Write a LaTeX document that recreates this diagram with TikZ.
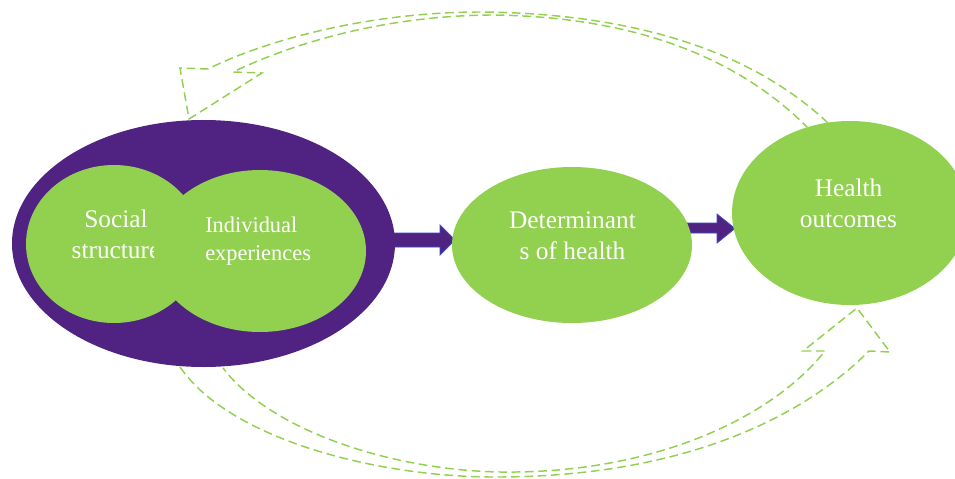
\documentclass[tikz,border=0pt]{standalone}
\usepackage{fontspec}
\setmainfont{Liberation Serif}
\usetikzlibrary{shapes.geometric}
\definecolor{leaf}{RGB}{146,208,80}
\definecolor{plum}{RGB}{80,35,130}
\definecolor{edgeblue}{RGB}{60,75,200}
\begin{document}
\begin{tikzpicture}[x=0.75pt,y=-0.75pt,
  blob/.style={ellipse, fill=leaf, draw=none, inner sep=0pt, outer sep=0pt},
  lbl/.style={text=white, font=\fontsize{19}{23}\selectfont, align=center, anchor=base, inner sep=0pt},
  flow/.style={fill=plum, draw=edgeblue, line width=0.6pt, line join=miter},
  loopback/.style={draw=leaf, line width=1.1pt, dash pattern=on 6.5pt off 3.5pt, line join=miter}]
\clip (0,0) rectangle (955,478);

% feedback arrows (curved block arrows, dashed outlines)
\coordinate (topstartout) at (828,123);
\coordinate (topstartin) at (807,127);
\draw[loopback] (topstartout) .. controls (745,45) and (620,13) .. (480,12)
   .. controls (375,12) and (270,38) .. (208,69) -- (180,68) -- (189,119) -- (262,73) -- (233,72)
   .. controls (300,40) and (390,16) .. (490,15) .. controls (620,16) and (730,50) .. (topstartin);
\coordinate (botstartout) at (180,367);
\coordinate (botstartin) at (223,368);
\draw[loopback] (botstartout) .. controls (230,440) and (380,478) .. (500,477)
   .. controls (680,476) and (800,420) .. (869,351) -- (890,352) -- (857,308) -- (803,351) -- (825,351)
   .. controls (770,420) and (650,474) .. (500,472) .. controls (390,470) and (270,430) .. (botstartin);

% block arrows
\draw[flow] (388,233) -- (440,233) -- (440,225) -- (455,240) -- (440,255) -- (440,247) -- (388,247) -- cycle;
\draw[flow] (685,223) -- (717,223) -- (717,214) -- (735,228.5) -- (717,243) -- (717,233) -- (685,233) -- cycle;

% ellipses
\node[ellipse, fill=plum, draw=none, inner sep=0pt, outer sep=0pt,
      minimum width=383*0.75pt, minimum height=247*0.75pt] (outer) at (203.5,243.5) {};
\node[blob, minimum width=176*0.75pt, minimum height=158*0.75pt] (social) at (114,244) {};
\node[lbl] (socialtext) at (116,258) {Social\\structure};
\node[blob, minimum width=212*0.75pt, minimum height=162*0.75pt] (indiv) at (260,251) {};
\node[lbl, align=left, anchor=base west, font=\fontsize{16.8}{21}\selectfont] (indivtext) at (205,260) {Individual\\experiences};
\node[blob, minimum width=240*0.75pt, minimum height=156*0.75pt] (det) at (572,245) {};
\node[lbl] (dettext) at (572.5,259) {Determinant\\s of health};
\node[blob, minimum width=236*0.75pt, minimum height=184*0.75pt] (health) at (850,213) {};
\node[lbl] (healthtext) at (848.5,227) {Health\\outcomes};
\end{tikzpicture}
\end{document}
